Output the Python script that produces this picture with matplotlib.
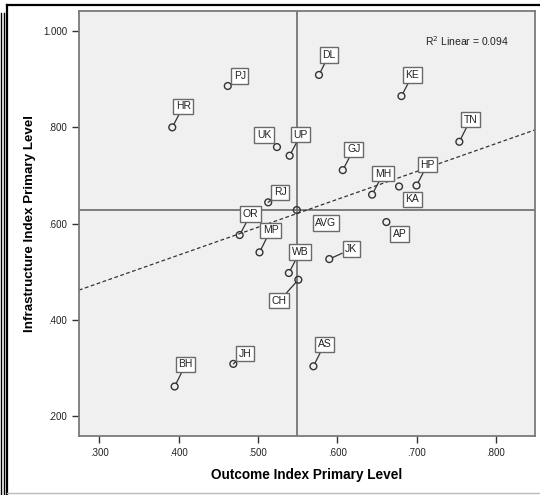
import matplotlib
matplotlib.use("Agg")
import matplotlib.pyplot as plt
import numpy as np
from matplotlib.lines import Line2D

plt.rcParams["font.family"] = ["Liberation Sans", "DejaVu Sans"]

# State codes with (outcome, infrastructure) index values
STATES = ["PJ", "HR", "UK", "UP", "RJ", "DL", "KE", "TN", "GJ", "MH", "KA",
          "HP", "OR", "MP", "WB", "CH", "BH", "JH", "AP", "JK", "AS"]
OUTCOME = [0.462, 0.392, 0.524, 0.540, 0.513, 0.577, 0.681, 0.754, 0.607,
           0.644, 0.678, 0.700, 0.477, 0.502, 0.539, 0.551, 0.395, 0.469,
           0.662, 0.590, 0.570]
INFRA = [0.886, 0.800, 0.759, 0.741, 0.644, 0.909, 0.865, 0.770, 0.711,
         0.660, 0.677, 0.679, 0.576, 0.540, 0.497, 0.483, 0.261, 0.308,
         0.603, 0.526, 0.303]
AVG_X = 0.549
AVG_Y = 0.628
R2_TEXT = "R$^2$ Linear = 0.094"

X_TICKS = [0.3, 0.4, 0.5, 0.6, 0.7, 0.8]
Y_TICKS = [0.2, 0.4, 0.6, 0.8, 1.0]
X_TICK_LABELS = [".300", ".400", ".500", ".600", ".700", ".800"]
Y_TICK_LABELS = [".200", ".400", ".600", ".800", "1.000"]

# label offsets (pixels, +y down)
LABEL_OFF = {
    "PJ": (12, -10), "HR": (11, -21), "UK": (-13, -12), "UP": (11, -21),
    "RJ": (12, -10), "DL": (10, -20), "KE": (11, -21), "TN": (11, -22),
    "GJ": (11, -21), "MH": (11, -21), "KA": (13, 13), "HP": (11, -21),
    "OR": (11, -21), "MP": (11, -22), "WB": (11, -21), "CH": (-19, 21),
    "BH": (11, -22), "JH": (12, -10), "AP": (13, 12), "JK": (22, -10),
    "AS": (11, -22), "AVG": (29, 13),
}
NO_LEADER = {"UK", "KA", "AP", "AVG"}

W, H = 540, 495
fig = plt.figure(figsize=(W / 100, H / 100), dpi=100)
ax = fig.add_axes([79 / W, 1 - 436 / H, (535 - 79) / W, (436 - 11) / H])
ax.set_facecolor("#f0f0f0")
ax.set_xlim(0.2744, 0.8494)
ax.set_ylim(0.158, 1.042)

for s in ax.spines.values():
    s.set_color("#7a7a7a")
    s.set_linewidth(1.3)

ax.axvline(AVG_X, color="#6a6a6a", lw=1.2, zorder=1)
ax.axhline(AVG_Y, color="#6a6a6a", lw=1.2, zorder=1)

xs = np.array(OUTCOME + [AVG_X])
ys = np.array(INFRA + [AVG_Y])
slope, icpt = np.polyfit(xs, ys, 1)
lx = np.array(ax.get_xlim())
ax.plot(lx, icpt + slope * lx, color="#333333", lw=0.9, ls=(0, (3, 2)), zorder=2)

ax.scatter(xs, ys, s=24, facecolors="none", edgecolors="#333333",
           linewidths=1.0, zorder=4)

names = STATES + ["AVG"]
for name, x, y in zip(names, xs, ys):
    dx, dy = LABEL_OFF[name]
    arrow = None
    if name not in NO_LEADER:
        arrow = dict(arrowstyle="-", color="#333333", lw=0.9,
                     shrinkA=0, shrinkB=2.5)
    ax.annotate(name, xy=(x, y), xytext=(dx, -dy), textcoords="offset pixels",
                ha="center", va="center", fontsize=7.5, color="#222222",
                bbox=dict(boxstyle="square,pad=0.25", fc="white",
                          ec="#6a6a6a", lw=1.0),
                arrowprops=arrow, zorder=5)

ax.text(0.943, 0.929, R2_TEXT, transform=ax.transAxes, fontsize=7.5,
        ha="right", va="center", color="#222222")

ax.set_xticks(X_TICKS)
ax.set_xticklabels(X_TICK_LABELS)
ax.set_yticks(Y_TICKS)
ax.set_yticklabels(Y_TICK_LABELS)
ax.tick_params(labelsize=7, color="#333333", length=5, width=1,
               labelcolor="#222222")
ax.set_xlabel("Outcome Index Primary Level", fontsize=9.8, fontweight="bold",
              labelpad=7)
ax.set_ylabel("Infrastructure Index Primary Level", fontsize=9.6,
              fontweight="bold", labelpad=5)

# outer frame as in the exported viewer
def fline(x0, y0, x1, y1, **kw):
    fig.add_artist(Line2D([x0 / W, x1 / W], [1 - y0 / H, 1 - y1 / H],
                          transform=fig.transFigure, **kw))

fline(7, 4.5, 540, 4.5, color="black", lw=1.6)
fline(7, 4.5, 7, 495, color="black", lw=1.6)
fline(1, 13, 1, 495, color="black", lw=1.0)
fline(3.8, 13, 3.8, 495, color="black", lw=1.0)
fline(7, 493, 540, 493, color="#bbbbbb", lw=1.0)

fig.savefig("out.png", dpi=100)
